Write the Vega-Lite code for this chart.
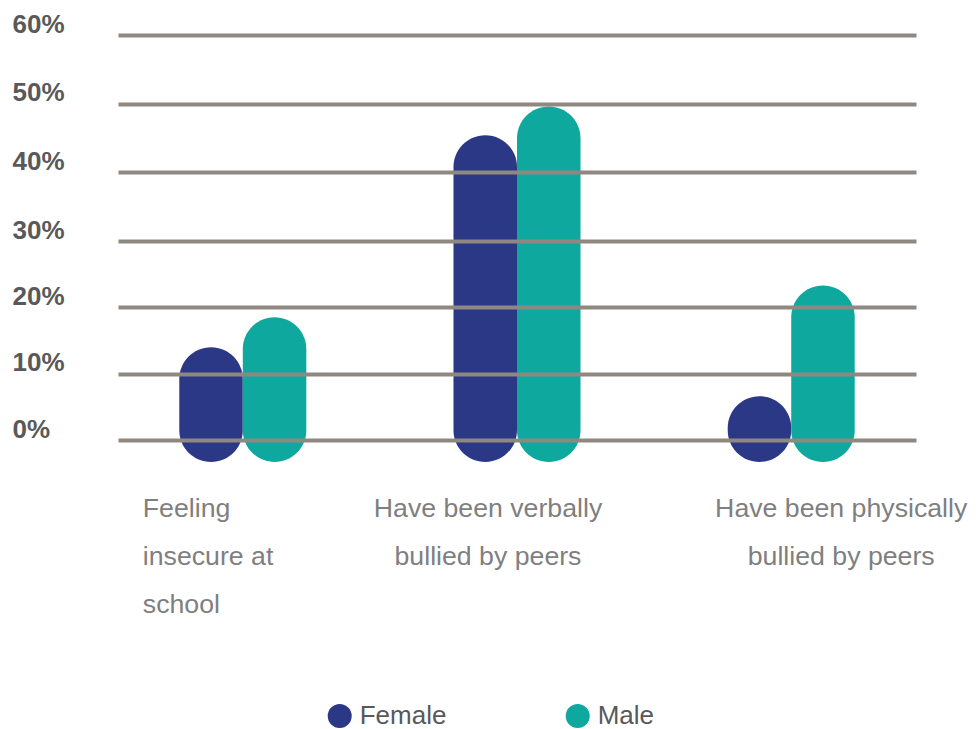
{
  "$schema": "https://vega.github.io/schema/vega-lite/v6.json",
  "width": 798,
  "height": 405,
  "autosize": {"type": "none"},
  "padding": {"left": 118, "top": 35, "right": 63, "bottom": 289},
  "background": "white",
  "config": {"view": {"stroke": null}},
  "data": {
    "values": [
      {"item": "Feeling insecure at school", "gender": "Female", "share": 14.0},
      {"item": "Feeling insecure at school", "gender": "Male", "share": 18.5},
      {"item": "Have been verbally bullied by peers", "gender": "Female", "share": 45.4},
      {"item": "Have been verbally bullied by peers", "gender": "Male", "share": 49.6},
      {"item": "Have been physically bullied by peers", "gender": "Female", "share": 6.6},
      {"item": "Have been physically bullied by peers", "gender": "Male", "share": 23.3}
    ]
  },
  "mark": {"type": "bar", "cornerRadius": 32},
  "encoding": {
    "x": {
      "field": "item",
      "type": "nominal",
      "sort": null,
      "scale": {"paddingInner": 0.5368, "paddingOuter": 0.2235},
      "axis": {
        "title": null,
        "domain": false,
        "ticks": false,
        "grid": false,
        "labelAngle": 0,
        "labelOverlap": false,
        "labelLimit": 0,
        "labelFont": "Liberation Sans",
        "labelFontSize": 26.7,
        "labelColor": "#7f7f7f",
        "labelBaseline": "top",
        "labelPadding": 55,
        "labelLineHeight": 48,
        "labelExpr": "datum.value == 'Feeling insecure at school' ? ['Feeling', 'insecure at', 'school'] : datum.value == 'Have been verbally bullied by peers' ? ['Have been verbally', 'bullied by peers'] : ['Have been physically', 'bullied by peers']",
        "labelAlign": {"condition": {"test": "datum.value == 'Feeling insecure at school'", "value": "left"}, "value": "center"},
        "labelOffset": {"condition": [{"test": "datum.value == 'Feeling insecure at school'", "value": -100}, {"test": "datum.value == 'Have been verbally bullied by peers'", "value": -29}], "value": 50}
      }
    },
    "xOffset": {"field": "gender", "sort": ["Female", "Male"], "scale": {"paddingInner": 0, "paddingOuter": 0}},
    "y": {
      "field": "share",
      "type": "quantitative",
      "scale": {"domain": [0, 30, 60], "range": [405, 206, 0], "nice": false, "zero": false},
      "axis": {
        "values": [0, 10, 20, 30, 40, 50, 60],
        "labelExpr": "datum.value + '%'",
        "title": null,
        "domain": false,
        "ticks": false,
        "grid": true,
        "gridColor": "#8f8881",
        "gridWidth": 4,
        "labelAlign": "left",
        "labelPadding": 106,
        "labelBaseline": "alphabetic",
        "labelOffset": -3,
        "labelFlush": false,
        "labelOverlap": false,
        "labelFont": "Liberation Sans",
        "labelFontSize": 26,
        "labelFontWeight": "bold",
        "labelColor": "#595959",
        "zindex": 1
      }
    },
    "y2": {"datum": -3.3},
    "color": {
      "field": "gender",
      "type": "nominal",
      "scale": {"domain": ["Female", "Male"], "range": ["#2b3886", "#0ea89e"]},
      "legend": {
        "orient": "none",
        "legendX": 208.7,
        "legendY": 668,
        "direction": "horizontal",
        "title": null,
        "symbolType": "circle",
        "symbolSize": 576,
        "symbolStrokeWidth": 0,
        "labelFont": "Liberation Sans",
        "labelFontSize": 26,
        "labelColor": "#595959",
        "labelOffset": 7,
        "columnPadding": 118,
        "padding": 0
      }
    }
  }
}
